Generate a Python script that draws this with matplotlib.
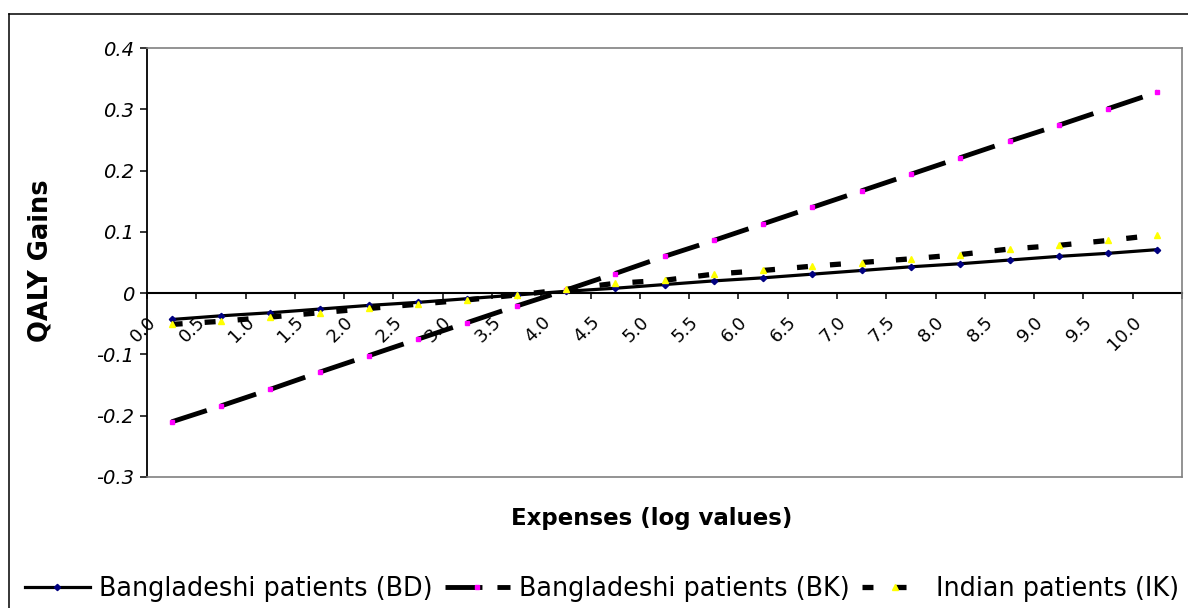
import matplotlib
matplotlib.use('Agg')
import matplotlib.pyplot as plt
from matplotlib.lines import Line2D
from matplotlib.transforms import ScaledTranslation

# x categories (log of expenses)
expense_labels = ['0.0', '0.5', '1.0', '1.5', '2.0', '2.5', '3.0', '3.5', '4.0', '4.5', '5.0',
                  '5.5', '6.0', '6.5', '7.0', '7.5', '8.0', '8.5', '9.0', '9.5', '10.0']

# QALY gains
qaly_bd = [-0.043, -0.037, -0.032, -0.026, -0.020, -0.015, -0.009, -0.003, 0.003, 0.008, 0.014,
           0.020, 0.025, 0.031, 0.037, 0.043, 0.048, 0.054, 0.060, 0.065, 0.071]
qaly_bk = [-0.210, -0.184, -0.157, -0.129, -0.102, -0.075, -0.048, -0.021, 0.005, 0.032, 0.060,
           0.086, 0.113, 0.140, 0.167, 0.194, 0.221, 0.248, 0.274, 0.301, 0.328]
qaly_ik = [-0.051, -0.046, -0.039, -0.032, -0.025, -0.018, -0.011, -0.003, 0.006, 0.016, 0.021,
           0.031, 0.037, 0.044, 0.050, 0.056, 0.063, 0.072, 0.078, 0.086, 0.095]

series_names = ['Bangladeshi patients (BD)', 'Bangladeshi patients (BK)', 'Indian patients (IK)']

y_ticks = [-0.3, -0.2, -0.1, 0.0, 0.1, 0.2, 0.3, 0.4]
y_ticklabels = ['-0.3', '-0.2', '-0.1', '0', '0.1', '0.2', '0.3', '0.4']

plt.rcParams['font.family'] = 'DejaVu Sans'
plt.rcParams['lines.scale_dashes'] = False

W, H = 1188, 608
fig = plt.figure(figsize=(W / 100, H / 100), dpi=100)
ax = fig.add_axes([147 / W, 1 - 477 / H, (1182 - 147) / W, (477 - 48) / H])

x = list(range(len(expense_labels)))
l1, = ax.plot(x, qaly_bd, color='black', lw=2.3, marker='D', ms=3.2,
              mfc='#000080', mec='#000080', label=series_names[0])
l2, = ax.plot(x, qaly_bk, color='black', lw=3.5, dashes=(26.6, 10.8), dash_capstyle='butt',
              marker='s', ms=3, mfc='#ff00ff', mec='#ff00ff', label=series_names[1])
l3, = ax.plot(x, qaly_ik, color='black', lw=3.8, dashes=(7.9, 15.9), dash_capstyle='butt',
              marker='^', ms=4.5, mfc='#ffff00', mec='#ffff00', label=series_names[2])

ax.set_xlim(-0.5, len(x) - 0.5)
ax.set_ylim(-0.3, 0.4)
ax.set_xticks([])
ax.set_yticks(y_ticks, y_ticklabels, fontstyle='italic', fontsize=14)
ax.tick_params(axis='y', direction='out', length=5, width=1.1, pad=4, color='black')
for s in ['top', 'right', 'bottom']:
    ax.spines[s].set_color('#808080')
    ax.spines[s].set_linewidth(1.2)
ax.spines['left'].set_linewidth(1.3)

# category axis crossing at zero
ymin, ymax = ax.get_ylim()
zero = ax.secondary_xaxis(-ymin / (ymax - ymin))
zero.set_xticks([i - 0.5 for i in range(len(x) + 1)])
zero.tick_params(axis='x', direction='out', length=4.5, width=1.1, labelbottom=False)
zero.spines['bottom'].set_linewidth(1.5)

off = ScaledTranslation(-0.25, -0.20, fig.dpi_scale_trans)
for i, lab in enumerate(expense_labels):
    ax.text(i, 0, lab, transform=ax.transData + off, rotation=45, rotation_mode='anchor',
            ha='right', va='top', fontsize=13, clip_on=False)

fig.text(41 / W, 1 - 261 / H, 'QALY Gains', rotation=90, ha='center', va='center',
         fontsize=18.5, fontweight='bold')
fig.text(652 / W, 1 - 519 / H, 'Expenses (log values)', ha='center', va='center',
         fontsize=16.5, fontweight='bold')

fig.legend(handles=[l1, l2, l3], loc='center left', bbox_to_anchor=(25 / W, 1 - 589 / H),
           ncol=3, frameon=False, fontsize=18.4, handlelength=2.54, handletextpad=0.35,
           columnspacing=0.49, borderpad=0, borderaxespad=0)

# chart frame (cut off at right and bottom)
fig.add_artist(Line2D([8.5 / W, 8.5 / W], [0, 1 - 14 / H], transform=fig.transFigure,
                      color='black', lw=1.1))
fig.add_artist(Line2D([8.5 / W, 1], [1 - 14 / H, 1 - 14 / H], transform=fig.transFigure,
                      color='black', lw=1.1))

fig.savefig('out.png', dpi=100)
